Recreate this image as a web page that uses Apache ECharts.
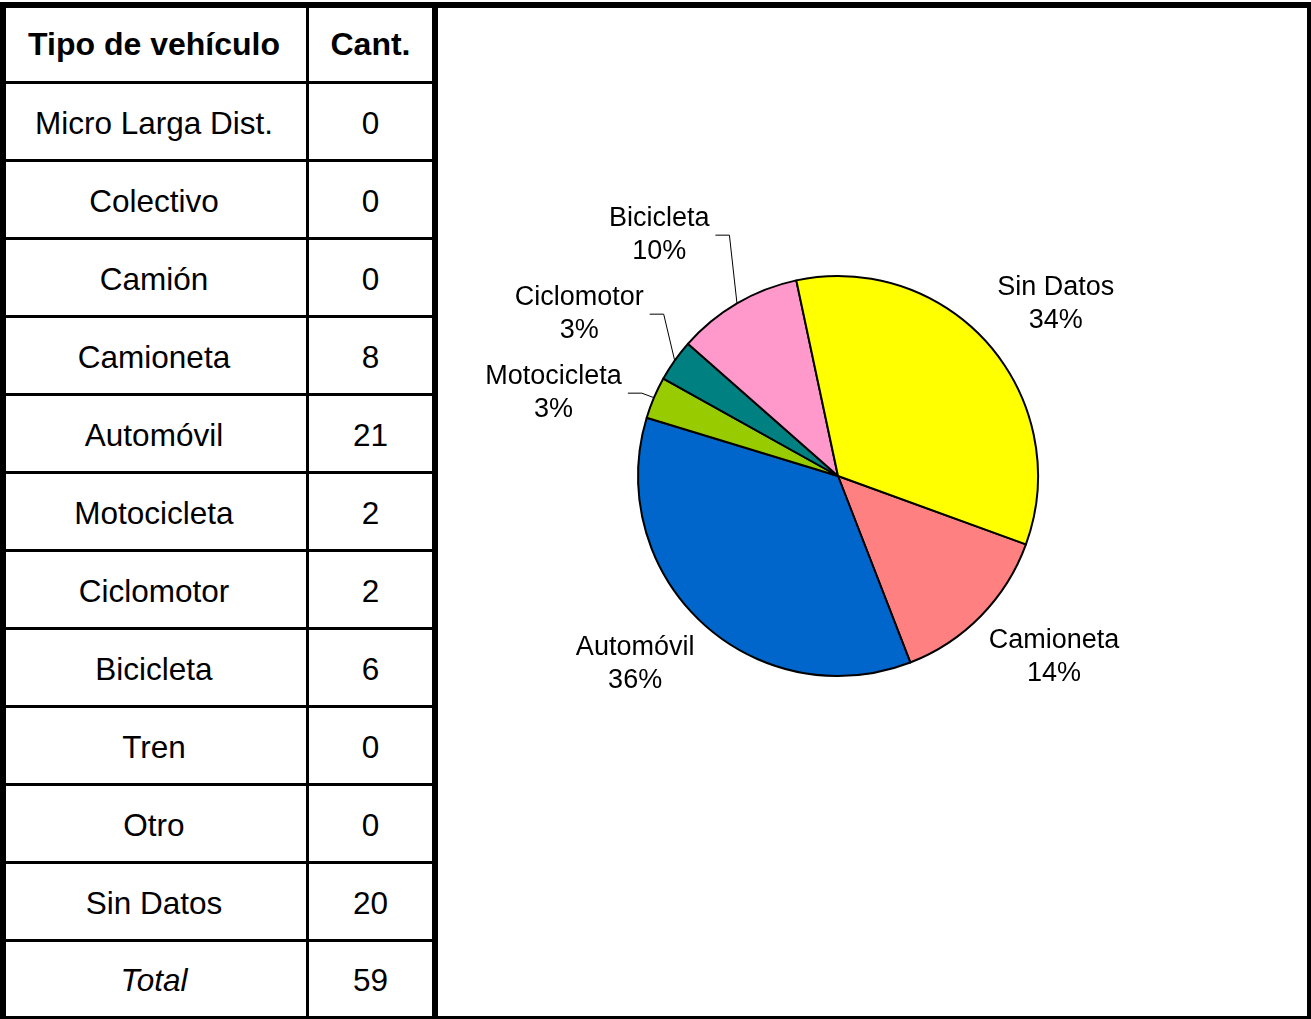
<!DOCTYPE html>
<html>
<head>
<meta charset="utf-8">
<script src="https://cdn.jsdelivr.net/npm/echarts@6/dist/echarts.min.js"></script>
<style>
  html, body { margin: 0; padding: 0; background: #fff; }
  body { width: 1311px; height: 1019px; position: relative; overflow: hidden; font-family: 'Liberation Sans', Arial, sans-serif; }
  #frame { position: absolute; left: 0; top: 2px; width: 1311px; height: 1017px; box-sizing: border-box;
    border-top: 6px solid #000; border-left: 6px solid #000; border-right: 4px solid #000; border-bottom: 3px solid #000; }
  #table { position: absolute; left: 6px; top: 8px; width: 426px; }
  #sep { position: absolute; left: 432px; top: 8px; width: 6px; height: 1008px; background: #000; }
  .row { display: flex; height: 78px; box-sizing: border-box; border-bottom: 3px solid #000; }
  .row .cell { padding-top: 3px; }
  .row.head .cell { padding-top: 0; font-weight: bold; font-size: 32px; }
  .row.head { height: 76px; }
  .row.last { height: 74px; border-bottom: none; }
  .cell { display: flex; align-items: center; justify-content: center; font-size: 31.5px; color: #000; box-sizing: border-box; }
  .c1 { width: 303px; border-right: 3px solid #000; padding-right: 4px; }
  .c2 { width: 123px; }
  #chart { position: absolute; left: 438px; top: 8px; width: 869px; height: 1008px; }
</style>
</head>
<body>
<div id="frame"></div>
<div id="table"></div>
<div id="sep"></div>
<div id="chart"></div>
<script>
// tabla
const headers = ['Tipo de vehículo', 'Cant.']
const vehicleTypes = ['Micro Larga Dist.', 'Colectivo', 'Camión', 'Camioneta', 'Automóvil',
  'Motocicleta', 'Ciclomotor', 'Bicicleta', 'Tren', 'Otro', 'Sin Datos']
const counts = [0, 0, 0, 8, 21, 2, 2, 6, 0, 0, 20]
const totalLabel = 'Total'
const totalCount = 59

const sliceColors = {
  'Camioneta': '#FF8080',
  'Automóvil': '#0066CC',
  'Motocicleta': '#99CC00',
  'Ciclomotor': '#008080',
  'Bicicleta': '#FF99CC',
  'Sin Datos': '#FFFF00'
}

function addRow(a, b, cls, italic) {
  const row = document.createElement('div')
  row.className = 'row' + (cls ? ' ' + cls : '')
  const c1 = document.createElement('div')
  c1.className = 'cell c1'
  c1.textContent = a
  if (italic) c1.style.fontStyle = 'italic'
  const c2 = document.createElement('div')
  c2.className = 'cell c2'
  c2.textContent = b
  row.appendChild(c1)
  row.appendChild(c2)
  document.getElementById('table').appendChild(row)
}
addRow(headers[0], headers[1], 'head')
vehicleTypes.forEach((t, i) => addRow(t, String(counts[i])))
addRow(totalLabel, String(totalCount), 'last', true)

// etiquetas estilo Excel: esquina de la etiqueta a 11px del borde, separar las que chocan
const labelGap = 11
const stackGap = 13
const moveOut = 22
const pad = 6
const leaderLen = 14
let natural = []
let placed = null

function naturalBox(params) {
  const p0 = params.labelLinePoints[0]
  const p1 = params.labelLinePoints[1]
  const len = Math.hypot(p1[0] - p0[0], p1[1] - p0[1])
  const ux = (p1[0] - p0[0]) / len
  const uy = (p1[1] - p0[1]) / len
  const px = p0[0] + ux * labelGap
  const py = p0[1] + uy * labelGap
  const w = params.labelRect.width
  const h = params.labelRect.height
  return {
    side: ux < 0 ? -1 : 1,
    cx: px + (ux < 0 ? -w / 2 : w / 2),
    cy: py + (uy < 0 ? -h / 2 : h / 2),
    w: w, h: h, anchor: p0
  }
}

function spreadLabels(boxes) {
  const out = boxes.map(b => Object.assign({}, b, { y: b.cy }))
  ;[-1, 1].forEach(side => {
    const list = out.filter(b => b.side === side).sort((a, b) => a.cy - b.cy)
    let groups = list.map(b => [b])
    let changed = true
    while (changed) {
      changed = false
      groups.forEach(g => {
        const offs = [0]
        for (let k = 1; k < g.length; k++) {
          offs.push(offs[k - 1] + g[k - 1].h / 2 + stackGap + g[k].h / 2)
        }
        let base = 0
        g.forEach((b, k) => { base += b.cy - offs[k] })
        base /= g.length
        g.forEach((b, k) => { b.y = base + offs[k] })
      })
      for (let i = 0; i < groups.length - 1; i++) {
        const a = groups[i][groups[i].length - 1]
        const b = groups[i + 1][0]
        if (a.y + a.h / 2 + stackGap > b.y - b.h / 2) {
          groups.splice(i, 2, groups[i].concat(groups[i + 1]))
          changed = true
          break
        }
      }
    }
  })
  out.forEach(b => {
    b.moved = Math.abs(b.y - b.cy) > 0.5
    b.x = b.moved ? b.cx + b.side * moveOut : b.cx
  })
  return out
}

function layoutLabel(params) {
  if (!placed) {
    const b = naturalBox(params)
    natural[params.dataIndex] = b
    return { x: b.cx, y: b.cy, align: 'center', verticalAlign: 'middle', labelLinePoints: [b.anchor, b.anchor, b.anchor] }
  }
  const b = placed[params.dataIndex]
  let pts = [b.anchor, b.anchor, b.anchor]
  if (b.moved) {
    const start = b.x - b.side * (b.w / 2 + pad)
    const turn = start - b.side * leaderLen
    pts = [b.anchor, [turn, b.y], [start, b.y]]
  }
  return { x: b.x, y: b.y, align: 'center', verticalAlign: 'middle', labelLinePoints: pts }
}

const pieData = vehicleTypes
  .map((name, i) => ({ name: name, value: counts[i], itemStyle: { color: sliceColors[name] } }))
  .filter(d => d.value > 0)

const chart = echarts.init(document.getElementById('chart'))
const option = {
  animation: false,
  series: [
    {
      type: 'pie',
      center: [400, 468],
      radius: 200,
      startAngle: -20,
      clockwise: true,
      avoidLabelOverlap: false,
      itemStyle: {
        borderColor: '#000',
        borderWidth: 2
      },
      emphasis: { disabled: true },
      label: {
        show: true,
        position: 'outside',
        color: '#000',
        fontFamily: 'Liberation Sans',
        fontSize: 27,
        lineHeight: 33,
        formatter: p => p.name + '\n' + Math.round(p.percent) + '%'
      },
      labelLine: {
        show: true,
        length: 20,
        length2: 12,
        lineStyle: { color: '#000', width: 1 }
      },
      labelLayout: layoutLabel,
      data: pieData
    }
  ]
}
chart.setOption(option)
placed = spreadLabels(natural)
chart.setOption(option, true)
</script>
</body>
</html>
